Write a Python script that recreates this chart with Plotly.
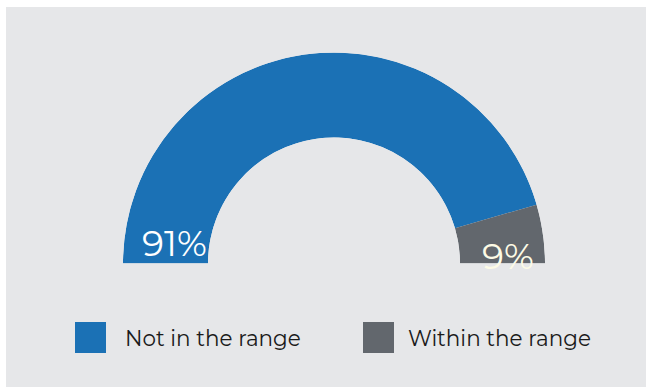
import plotly.graph_objects as go

categories = ["Not in the range", "Within the range"]
values = [91, 9]
colors = ["#1b71b5", "#62676d"]
label_colors = ["#ffffff", "#fdfbe6"]

W, H = 646, 387
FONT = "Montserrat, Open Sans, sans-serif"

total = sum(values)
thetas, widths = [], []
start = 0.0
for v in values:
    w = v / total * 180.0
    thetas.append(start + w / 2)
    widths.append(w)
    start += w

fig = go.Figure()
fig.add_trace(go.Barpolar(
    r=[1] * len(values),
    theta=thetas,
    width=widths,
    marker=dict(color=colors, line=dict(width=0)),
    text=categories,
    hoverinfo="text",
    showlegend=False,
))

cx, cy, R, r_in = 334, 263.5, 211, 126
fig.update_layout(
    width=W, height=H,
    margin=dict(l=0, r=0, t=0, b=0),
    paper_bgcolor="#ffffff",
    plot_bgcolor="rgba(0,0,0,0)",
    polar=dict(
        domain=dict(x=[(cx - R) / W, (cx + R) / W], y=[1 - cy / H, 1 - (cy - R) / H]),
        sector=[0, 180],
        hole=r_in / R,
        bgcolor="rgba(0,0,0,0)",
        radialaxis=dict(range=[0, 1], visible=False, showgrid=False),
        angularaxis=dict(rotation=180, direction="clockwise", visible=False,
                         showgrid=False, showline=False, ticks=""),
    ),
    shapes=[dict(type="rect", xref="paper", yref="paper", x0=6 / W, x1=1, y0=0, y1=1 - 7 / H,
                 fillcolor="#e6e7e9", line=dict(width=0), layer="below")],
)

# percentage labels
label_pos = [(174, 243), (508, 256)]
for v, (x, y), c in zip(values, label_pos, label_colors):
    fig.add_annotation(x=x / W, y=1 - y / H, xref="paper", yref="paper",
                       text=f"{v}%", showarrow=False,
                       font=dict(family=FONT, size=36, color=c),
                       xanchor="center", yanchor="middle")

# manual legend
leg_sq = [(75, 322), (363, 322)]
leg_text_x = [126, 409]
sq = 31
for name, col, (x, y), tx in zip(categories, colors, leg_sq, leg_text_x):
    fig.add_shape(type="rect", xref="paper", yref="paper",
                  x0=x / W, x1=(x + sq) / W, y0=1 - (y + sq) / H, y1=1 - y / H,
                  fillcolor=col, line=dict(width=0))
    fig.add_annotation(x=(tx - 3) / W, y=1 - (y + sq / 2) / H, xref="paper", yref="paper",
                       text=name, showarrow=False, xanchor="left", yanchor="middle",
                       font=dict(family=FONT, size=21.5, color="#1a1a1a"))

fig.write_html("out.html")
